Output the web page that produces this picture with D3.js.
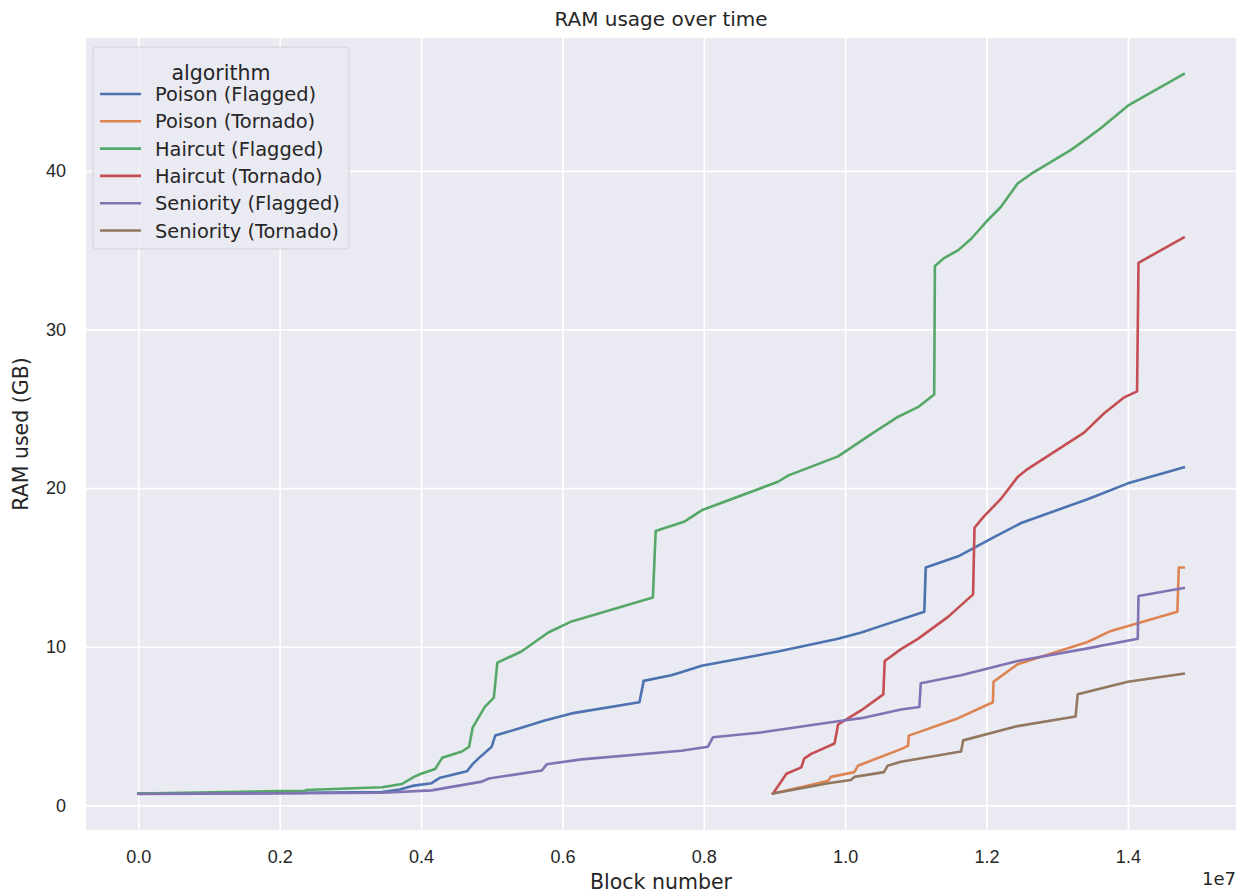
<!DOCTYPE html>
<html>
<head>
<meta charset="utf-8">
<script src="https://cdn.jsdelivr.net/npm/d3@7"></script>
<style>
  body { margin: 0; background: #fff; }
  svg { font-family: "DejaVu Sans", sans-serif; }
  .grid line { stroke: #fff; stroke-width: 1.7; }
  .tick text { fill: #262626; font-size: 18px; }
</style>
</head>
<body>
<script>
// series names, in hue order
var algorithms = ["Poison (Flagged)", "Poison (Tornado)", "Haircut (Flagged)",
                  "Haircut (Tornado)", "Seniority (Flagged)", "Seniority (Tornado)"];
var colors = ["#4C72B0", "#DD8452", "#55A868", "#C44E52", "#8172B3", "#937860"];

// [block number, RAM used (GB)]
var poisonFlagged = [[0, 0.75], [2.36e6, 0.78], [2.37e6, 0.8], [3.45e6, 0.85], [3.7e6, 1.0],
  [3.9e6, 1.25], [4.15e6, 1.4], [4.27e6, 1.75], [4.65e6, 2.15], [4.73e6, 2.6], [4.81e6, 2.95],
  [5.0e6, 3.7], [5.05e6, 4.4], [5.42e6, 4.9], [5.75e6, 5.35], [6.13e6, 5.8], [7.09e6, 6.5],
  [7.15e6, 7.85], [7.54e6, 8.2], [7.68e6, 8.4], [7.97e6, 8.8], [8.81e6, 9.5], [9.05e6, 9.7],
  [9.9e6, 10.5], [10.23e6, 10.9], [10.5e6, 11.3], [11.12e6, 12.2], [11.14e6, 15.0], [11.6e6, 15.7],
  [12.1e6, 16.9], [12.49e6, 17.8], [13.43e6, 19.3], [14.0e6, 20.3], [14.79e6, 21.3]];

var poisonTornado = [[8.98e6, 0.75], [9.48e6, 1.25], [9.76e6, 1.55], [9.8e6, 1.8], [10.13e6, 2.1],
  [10.18e6, 2.5], [10.79e6, 3.55], [10.89e6, 3.75], [10.9e6, 4.4], [11.6e6, 5.5], [12.09e6, 6.5],
  [12.1e6, 7.8], [12.44e6, 8.9], [13.43e6, 10.3], [13.76e6, 11.0], [14.7e6, 12.2], [14.72e6, 15.0],
  [14.79e6, 15.0]];

var haircutFlagged = [[0, 0.75], [2.0e6, 0.9], [2.36e6, 0.92], [2.37e6, 0.97], [3.45e6, 1.15],
  [3.73e6, 1.35], [3.9e6, 1.8], [4.0e6, 2.0], [4.2e6, 2.3], [4.3e6, 3.0], [4.58e6, 3.4],
  [4.68e6, 3.7], [4.73e6, 4.9], [4.9e6, 6.2], [5.03e6, 6.8], [5.08e6, 9.0], [5.42e6, 9.7],
  [5.8e6, 10.9], [6.13e6, 11.6], [7.28e6, 13.1], [7.32e6, 17.3], [7.73e6, 17.9], [7.97e6, 18.6],
  [9.05e6, 20.4], [9.2e6, 20.8], [9.9e6, 22.0], [10.37e6, 23.4], [10.75e6, 24.5], [11.03e6, 25.1],
  [11.26e6, 25.9], [11.27e6, 34.0], [11.4e6, 34.5], [11.6e6, 35.0], [11.78e6, 35.7], [12.02e6, 36.9],
  [12.2e6, 37.7], [12.44e6, 39.2], [12.63e6, 39.8], [13.19e6, 41.3], [13.38e6, 41.9],
  [13.62e6, 42.7], [14.0e6, 44.1], [14.79e6, 46.1]];

var haircutTornado = [[8.98e6, 0.75], [9.17e6, 2.0], [9.38e6, 2.4], [9.42e6, 2.95], [9.52e6, 3.25],
  [9.85e6, 3.9], [9.9e6, 5.1], [10.08e6, 5.6], [10.23e6, 6.0], [10.54e6, 7.0], [10.56e6, 9.1],
  [10.79e6, 9.85], [11.03e6, 10.5], [11.46e6, 11.9], [11.81e6, 13.3], [11.83e6, 17.5],
  [11.96e6, 18.2], [12.2e6, 19.3], [12.44e6, 20.7], [12.58e6, 21.2], [13.38e6, 23.5],
  [13.66e6, 24.7], [13.94e6, 25.7], [14.13e6, 26.1], [14.15e6, 34.2], [14.79e6, 35.8]];

var seniorityFlagged = [[0, 0.72], [3.45e6, 0.8], [4.15e6, 0.95], [4.86e6, 1.5], [4.96e6, 1.7],
  [5.71e6, 2.2], [5.78e6, 2.6], [6.27e6, 2.9], [7.68e6, 3.45], [8.06e6, 3.7], [8.13e6, 4.3],
  [8.81e6, 4.6], [9.9e6, 5.3], [10.23e6, 5.5], [10.79e6, 6.05], [11.05e6, 6.2], [11.07e6, 7.7],
  [11.64e6, 8.2], [12.44e6, 9.1], [13.43e6, 9.9], [14.14e6, 10.5], [14.15e6, 13.2], [14.79e6, 13.7]];

var seniorityTornado = [[8.98e6, 0.75], [9.76e6, 1.4], [10.08e6, 1.6], [10.13e6, 1.8],
  [10.55e6, 2.1], [10.6e6, 2.5], [10.79e6, 2.75], [11.64e6, 3.4], [11.67e6, 4.1], [12.44e6, 5.0],
  [13.26e6, 5.6], [13.29e6, 7.0], [14.0e6, 7.8], [14.79e6, 8.3]];

var xTicks = [0, 2e6, 4e6, 6e6, 8e6, 10e6, 12e6, 14e6];
var yTicks = [0, 10, 20, 30, 40];

var series = [poisonFlagged, poisonTornado, haircutFlagged,
              haircutTornado, seniorityFlagged, seniorityTornado];

var width = 1245,
    height = 896,
    margin = {top: 38, right: 9, bottom: 66, left: 86},
    w = width - margin.left - margin.right,
    h = height - margin.top - margin.bottom;

var svg = d3.select("body").append("svg")
    .attr("width", width)
    .attr("height", height);

//matplotlib style 5% padding on both axes
var all = d3.merge(series);
var xExt = d3.extent(all, function(d){ return d[0]; }),
    yExt = d3.extent(all, function(d){ return d[1]; });
var xPad = (xExt[1] - xExt[0]) * 0.05,
    yPad = (yExt[1] - yExt[0]) * 0.05;

var x = d3.scaleLinear()
    .domain([xExt[0] - xPad, xExt[1] + xPad])
    .range([0, w]);
var y = d3.scaleLinear()
    .domain([yExt[0] - yPad, yExt[1] + yPad])
    .range([h, 0]);

var g = svg.append("g")
    .attr("transform", "translate(" + margin.left + "," + margin.top + ")");

g.append("rect")
    .attr("width", w)
    .attr("height", h)
    .attr("fill", "#EAEAF2");

//grid lines + tick labels via axes
var xAxis = g.append("g")
    .attr("class", "grid")
    .attr("transform", "translate(0," + h + ")")
    .call(d3.axisBottom(x).tickValues(xTicks).tickSize(-h).tickPadding(20)
        .tickFormat(function(d){ return (d / 1e7).toFixed(1); }));
xAxis.select(".domain").remove();

var yAxis = g.append("g")
    .attr("class", "grid")
    .call(d3.axisLeft(y).tickValues(yTicks).tickSize(-w).tickPadding(20));
yAxis.select(".domain").remove();

//lines
var line = d3.line()
    .x(function(d){ return x(d[0]); })
    .y(function(d){ return y(d[1]); });

g.selectAll(".series")
    .data(series)
    .enter()
    .append("path")
    .attr("class", "series")
    .attr("d", line)
    .attr("fill", "none")
    .attr("stroke", function(d, i){ return colors[i]; })
    .attr("stroke-width", 2.6)
    .attr("stroke-linejoin", "round")
    .attr("stroke-linecap", "square");

//titles
svg.append("text")
    .attr("x", margin.left + w / 2)
    .attr("y", 26)
    .attr("text-anchor", "middle")
    .attr("font-size", 20)
    .attr("fill", "#262626")
    .text("RAM usage over time");

svg.append("text")
    .attr("x", margin.left + w / 2)
    .attr("y", 889)
    .attr("text-anchor", "middle")
    .attr("font-size", 20.5)
    .attr("fill", "#262626")
    .text("Block number");

svg.append("text")
    .attr("transform", "translate(28," + (margin.top + h / 2) + ") rotate(-90)")
    .attr("text-anchor", "middle")
    .attr("font-size", 20.5)
    .attr("fill", "#262626")
    .text("RAM used (GB)");

svg.append("text")
    .attr("x", margin.left + w)
    .attr("y", 885)
    .attr("text-anchor", "end")
    .attr("font-size", 18)
    .attr("fill", "#262626")
    .text("1e7");

//legend
var legend = g.append("g")
    .attr("transform", "translate(7,9)");

legend.append("rect")
    .attr("width", 256)
    .attr("height", 202)
    .attr("rx", 4)
    .attr("fill", "#EAEAF2")
    .attr("fill-opacity", 0.8)
    .attr("stroke", "#cccccc")
    .attr("stroke-opacity", 0.8);

legend.append("text")
    .attr("x", 128)
    .attr("y", 33)
    .attr("text-anchor", "middle")
    .attr("font-size", 20.5)
    .attr("fill", "#262626")
    .text("algorithm");

var items = legend.selectAll(".item")
    .data(algorithms)
    .enter()
    .append("g")
    .attr("class", "item")
    .attr("transform", function(d, i){ return "translate(0," + (47 + i * 27.3) + ")"; });

items.append("line")
    .attr("x1", 7)
    .attr("x2", 48)
    .attr("stroke", function(d, i){ return colors[i]; })
    .attr("stroke-width", 2.6);

items.append("text")
    .attr("x", 62)
    .attr("y", 7)
    .attr("font-size", 19.4)
    .attr("fill", "#262626")
    .text(function(d){ return d; });
</script>
</body>
</html>
